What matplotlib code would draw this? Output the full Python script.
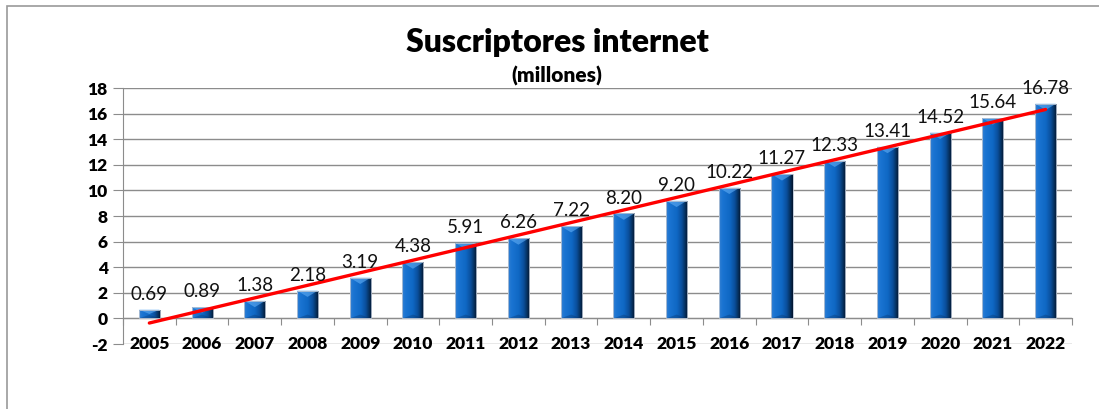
import numpy as np
import matplotlib
matplotlib.use("Agg")
import matplotlib.pyplot as plt
from matplotlib.patches import Rectangle, Polygon
from matplotlib.colors import LinearSegmentedColormap

plt.rcParams['font.family'] = ['Lato', 'DejaVu Sans']

years = ["2005", "2006", "2007", "2008", "2009", "2010", "2011", "2012", "2013",
         "2014", "2015", "2016", "2017", "2018", "2019", "2020", "2021", "2022"]
subscribers = [0.69, 0.89, 1.38, 2.18, 3.19, 4.38, 5.91, 6.26, 7.22,
               8.20, 9.20, 10.22, 11.27, 12.33, 13.41, 14.52, 15.64, 16.78]
y_ticks = [-2, 0, 2, 4, 6, 8, 10, 12, 14, 16, 18]

grid_color = "#8c8c8c"
bar_cmap = LinearSegmentedColormap.from_list(
    "cyl", [(0.0, "#3580d2"), (0.15, "#1a74d2"), (0.5, "#0f68c4"),
            (0.72, "#0a4f9c"), (0.88, "#06305e"), (1.0, "#03142c")])

fig = plt.figure(figsize=(10.99, 4.09), dpi=100)
ax = fig.add_axes([0.1119, 0.1589, 0.8635, 0.6259])

x = np.arange(len(years))
bars = ax.bar(x, subscribers, width=0.4, color="none", edgecolor="none", zorder=3)

# cylinder-like shading for every bar
grad = np.linspace(0, 1, 64).reshape(1, -1)
for b, v in zip(bars, subscribers):
    x0, w = b.get_x(), b.get_width()
    im = ax.imshow(grad, cmap=bar_cmap, aspect="auto", zorder=3,
                   extent=(x0, x0 + w, 0, v), interpolation="bicubic")
    im.set_clip_path(b)
    depth = min(0.5, v * 0.5)
    ax.add_patch(Polygon([(x0, v), (x0 + w, v), (x0 + w / 2, v - depth)],
                         closed=True, facecolor="#62aef5", alpha=0.6,
                         edgecolor="none", zorder=4))
    ax.add_patch(Polygon([(x0, 0), (x0 + w, 0), (x0 + w / 2, min(0.3, v * 0.4))],
                         closed=True, facecolor="#0a2c5a", alpha=0.3,
                         edgecolor="none", zorder=4))
    ax.add_patch(Rectangle((x0, 0), w, v, fill=False, edgecolor="#b8c4d4",
                           lw=0.6, zorder=4))
    ax.annotate(f"{v:.2f}", xy=(b.get_x() + w / 2, v), xytext=(0, 5),
                textcoords="offset points", ha="center", va="bottom",
                fontsize=13.5, color="#111111", zorder=6)

# linear trend
coef = np.polyfit(x, subscribers, 1)
ax.plot([x[0], x[-1]], np.polyval(coef, [x[0], x[-1]]), color="#ff0000",
        lw=2.4, zorder=5, solid_capstyle="round")

ax.set_xlim(-0.5, len(years) - 0.5)
ax.set_ylim(-2, 18)
ax.set_yticks(y_ticks)
ax.set_yticklabels([str(t) for t in y_ticks], fontsize=12.5, fontweight="heavy")
ax.yaxis.grid(True, color=grid_color, lw=1)
ax.set_axisbelow(True)
ax.tick_params(axis="y", length=7, color=grid_color, pad=4)

ax.spines["top"].set_visible(False)
ax.spines["right"].set_visible(False)
ax.spines["left"].set_color(grid_color)
ax.spines["bottom"].set_position(("data", 0))
ax.spines["bottom"].set_color(grid_color)
ax.spines["bottom"].set_zorder(2)
ax.set_xticks(np.arange(len(years) + 1) - 0.5)
ax.set_xticklabels([])
ax.tick_params(axis="x", length=5, color=grid_color, direction="out")

for xi, yr in zip(x, years):
    ax.text(xi, -2, yr, ha="center", va="center", fontsize=12.5,
            fontweight="heavy", zorder=6)

fig.text(0.507, 0.895, "Suscriptores internet", ha="center", va="center",
         fontsize=23, fontweight="heavy")
fig.text(0.507, 0.814, "(millones)", ha="center", va="center",
         fontsize=15, fontweight="heavy")

fig.patches.append(Rectangle((7 / 1099, -0.1), 1.2, 1 - 6 / 409 + 0.1,
                             transform=fig.transFigure, fill=False,
                             edgecolor="#9a9a9a", lw=1.2))

fig.savefig("out.png", dpi=100)
